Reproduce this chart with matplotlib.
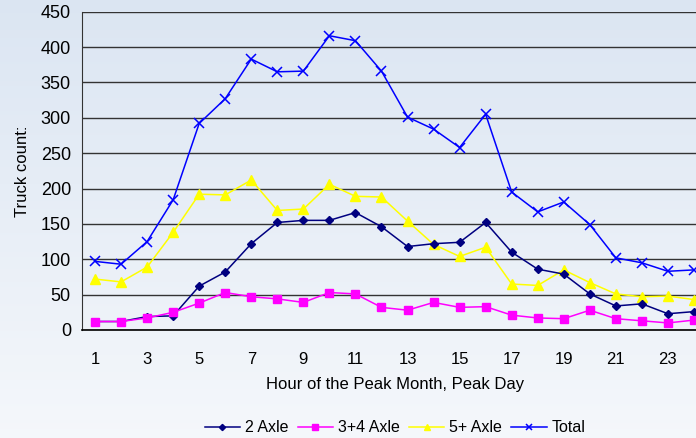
import numpy as np
import matplotlib
matplotlib.use('Agg')
import matplotlib.pyplot as plt

hours = list(range(1, 25))

axle2 = [12, 12, 19, 20, 62, 82, 122, 152, 155, 155, 166, 146,
         118, 122, 124, 152, 110, 86, 79, 51, 34, 37, 23, 26]
axle34 = [12, 12, 17, 25, 38, 53, 47, 44, 39, 53, 51, 32,
          28, 39, 32, 33, 21, 17, 16, 28, 16, 13, 10, 14]
axle5 = [72, 68, 89, 138, 192, 191, 212, 169, 171, 206, 189, 188,
         154, 121, 104, 117, 65, 63, 85, 67, 51, 47, 48, 43]
total = [97, 93, 125, 184, 292, 327, 383, 365, 366, 416, 409, 366,
         301, 284, 258, 305, 195, 167, 181, 149, 102, 95, 83, 85]

xticks = list(range(1, 24, 2))
yticks = list(range(0, 451, 50))

plt.rcParams['font.family'] = ['Liberation Sans', 'DejaVu Sans']

fig = plt.figure(figsize=(6.96, 4.38), dpi=100)

# soft sky-like background
bg = fig.add_axes([0, 0, 1, 1], zorder=-10)
grad = np.linspace(0, 1, 256).reshape(-1, 1)
top = np.array([0.86, 0.90, 0.95])
bottom = np.array([0.96, 0.97, 0.985])
img = top + (bottom - top) * grad[..., None]
bg.imshow(img, aspect='auto', extent=[0, 1, 0, 1])
bg.axis('off')

ax = fig.add_axes([82 / 696, 108 / 438, 625 / 696, 318.3 / 438])
ax.patch.set_alpha(0)

ax.plot(hours, axle2, color='#000080', marker='D', markersize=4.5, lw=1.1, label='2 Axle', zorder=4)
ax.plot(hours, axle34, color='#ff00ff', marker='s', markersize=5.5, lw=1.1, label='3+4 Axle', zorder=5)
ax.plot(hours, axle5, color='#ffff00', marker='^', markersize=7, lw=1.1, label='5+ Axle', zorder=3)
ax.plot(hours, total, color='#0000ff', marker='x', markersize=7, mew=1.1, lw=1.1, label='Total', zorder=3)

ax.set_xlim(0.5, 24.5)
ax.set_ylim(0, 450)
ax.set_xticks(xticks)
ax.set_yticks(yticks)
ax.tick_params(axis='both', length=0, labelsize=13)
ax.tick_params(axis='x', pad=16, labelsize=12)
ax.tick_params(axis='y', pad=8)
ax.yaxis.grid(True, color='#333333', lw=1.0)
ax.set_axisbelow(True)

for s in ['top', 'right']:
    ax.spines[s].set_visible(False)
ax.spines['left'].set_color('#333333')
ax.spines['bottom'].set_color('black')
ax.spines['bottom'].set_linewidth(1.2)

ax.set_ylabel('Truck count:', fontsize=12, labelpad=8)
fig.text(395 / 696, 1 - 385 / 438, 'Hour of the Peak Month, Peak Day',
         ha='center', va='center', fontsize=12)

handles, labels = ax.get_legend_handles_labels()
fig.legend(handles, labels, loc='center', bbox_to_anchor=(395 / 696, 1 - 428 / 438),
           ncol=4, frameon=False, fontsize=11.5, markerscale=0.7,
           handlelength=2.2, handletextpad=0.3, columnspacing=0.6)

fig.savefig('out.png', dpi=100)
